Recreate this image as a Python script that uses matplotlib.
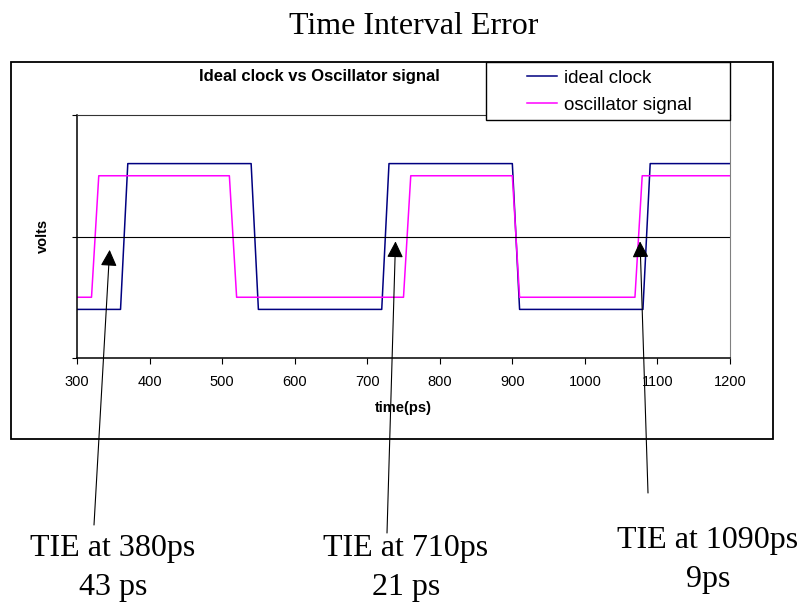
import matplotlib
matplotlib.use('Agg')
import matplotlib.pyplot as plt
from matplotlib.patches import Rectangle

# signal data (ps, volts)
ideal_t = [300, 360, 370, 540, 550, 720, 730, 900, 910, 1080, 1090, 1200]
ideal_v = [0.4, 0.4, 1.6, 1.6, 0.4, 0.4, 1.6, 1.6, 0.4, 0.4, 1.6, 1.6]
osc_t = [300, 320, 330, 510, 520, 750, 760, 900, 910, 1069, 1079, 1200]
osc_v = [0.5, 0.5, 1.5, 1.5, 0.5, 0.5, 1.5, 1.5, 0.5, 0.5, 1.5, 1.5]
xticks = [300, 400, 500, 600, 700, 800, 900, 1000, 1100, 1200]

# TIE annotations: arrow tips in data, labels below the chart
tie_labels = ['TIE at 380ps\n43 ps', 'TIE at 710ps\n21 ps', 'TIE at 1090ps\n9ps']
tip_t = [345, 739, 1076]
tip_v = [0.89, 0.96, 0.96]

W, H = 802, 603
def fx(px):
    return px / W
def fy(py):
    return 1 - py / H

sans = 'Liberation Sans'
serif = 'Liberation Serif'

fig = plt.figure(figsize=(8.02, 6.03), dpi=100)
fig.text(fx(414), fy(27), 'Time Interval Error', family=serif, fontsize=23,
         ha='center', va='center')

# outer chart frame
fig.patches.append(Rectangle((fx(11), fy(439)), fx(762), 377 / H, transform=fig.transFigure,
                             fill=False, edgecolor='black', lw=1.3, zorder=0))

ax = fig.add_axes([fx(77), fy(358), fx(653), 243 / H])
ax.plot(ideal_t, ideal_v, color='#000080', lw=1.1, label='ideal clock')
ax.plot(osc_t, osc_v, color='#FF00FF', lw=1.1, label='oscillator signal')
ax.set_xlim(300, 1200)
ax.set_ylim(0, 2)
ax.set_xticks(xticks)
ax.set_yticks([0, 1, 2])
ax.set_yticklabels([])
ax.axhline(1, color='black', lw=0.8)
ax.tick_params(axis='x', direction='out', length=4.3, width=0.8, labelsize=10.5, pad=8)
ax.tick_params(axis='y', direction='out', length=3.6, width=0.8)
for lab in ax.get_xticklabels():
    lab.set_family(sans)
ax.spines['left'].set_linewidth(1.1)
ax.spines['bottom'].set_linewidth(1.1)
ax.spines['top'].set_color('#333333')
ax.spines['top'].set_linewidth(0.8)
ax.spines['right'].set_color('#808080')
ax.spines['right'].set_linewidth(0.8)

fig.text(fx(403), fy(408), 'time(ps)', family=sans, fontsize=10.5, fontweight='bold',
         ha='center', va='center')
fig.text(fx(43), fy(236), 'volts', family=sans, fontsize=10.5, fontweight='bold',
         ha='center', va='center', rotation=90)
fig.text(fx(319), fy(76), 'Ideal clock vs Oscillator signal', family=sans, fontsize=12,
         fontweight='bold', ha='center', va='center')

# legend box
fig.patches.append(Rectangle((fx(486), fy(120)), fx(244), 58 / H, transform=fig.transFigure,
                             facecolor='white', edgecolor='black', lw=1.0, zorder=3))
leg = fig.legend(loc='upper left', bbox_to_anchor=(fx(527), fy(69.5)), frameon=False,
                 prop={'family': sans, 'size': 13.5}, handlelength=1.6, handletextpad=0.37,
                 labelspacing=0.52, borderaxespad=0, borderpad=0)
leg.set_zorder(4)

tails = [(94, 525), (387, 533), (648, 493)]
label_pos = [(113, 568), (406, 568), (708, 560)]
for i in range(len(tie_labels)):
    ax.annotate('', xy=(tip_t[i], tip_v[i]), xycoords='data',
                xytext=(fx(tails[i][0]), fy(tails[i][1])), textcoords='figure fraction',
                arrowprops=dict(arrowstyle='-|>,head_length=0.4,head_width=0.2',
                                mutation_scale=25, color='black', lw=0.8,
                                shrinkA=0, shrinkB=0),
                annotation_clip=False)
    fig.text(fx(label_pos[i][0]), fy(label_pos[i][1]), tie_labels[i], family=serif,
             fontsize=23, ha='center', va='center', multialignment='center', linespacing=1.45)

fig.savefig('out.png', dpi=100)
